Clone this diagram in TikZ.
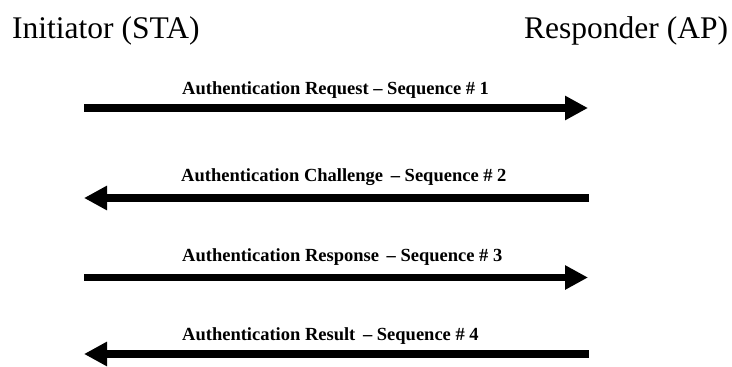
\documentclass[tikz,border=0pt]{standalone}
\usepackage{fontspec}
\setmainfont{Liberation Serif}
\usetikzlibrary{arrows.meta}

\tikzset{
  party/.style={inner sep=0pt, anchor=base west, font=\fontsize{31.5}{36}\selectfont},
  msgtext/.style={inner sep=0pt, anchor=base west, font=\fontsize{18.5}{22}\selectfont\bfseries},
  msg/.style={line width=7.5pt, -{Triangle[length=23pt,width=23pt]}}
}

\begin{document}
\begin{tikzpicture}[x=1pt,y=1pt]
\useasboundingbox (0,0) rectangle (732,-367);
\node[party] (sta) at (12,-38) {Initiator (STA)};
\node[party] (ap) at (524,-38) {Responder (AP)};
% both ends of each message
\coordinate (sta1) at (84,-108);  \coordinate (ap1) at (588,-108);
\coordinate (sta2) at (84,-198);  \coordinate (ap2) at (589,-198);
\coordinate (sta3) at (84,-277.5);\coordinate (ap3) at (588,-277.5);
\coordinate (sta4) at (84,-354);  \coordinate (ap4) at (589,-354);
\draw[msg] (sta1) -- (ap1);
\node[msgtext] (m1) at (182,-94) {Authentication Request -- Sequence \# 1};
\draw[msg] (ap2) -- (sta2);
\node[msgtext] (m2) at (181,-181) {Authentication Challenge\,\ -- Sequence \# 2};
\draw[msg] (sta3) -- (ap3);
\node[msgtext] (m3) at (182,-261) {Authentication Response\,\ -- Sequence \# 3};
\draw[msg] (ap4) -- (sta4);
\node[msgtext] (m4) at (182,-340) {Authentication Result\,\ -- Sequence \# 4};
\end{tikzpicture}
\end{document}
